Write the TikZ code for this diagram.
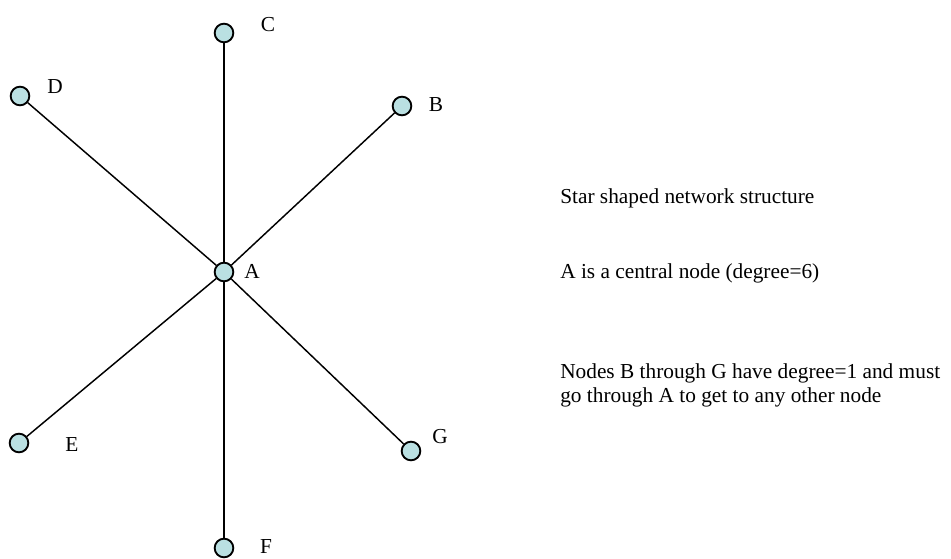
\documentclass[tikz,border=0pt]{standalone}
\usepackage{fontspec}
\setmainfont{Liberation Serif}
\definecolor{node fill}{RGB}{186,224,226}
\tikzstyle{vertex}=[circle, draw=black, fill=node fill, line width=1.4pt, minimum size=14pt, inner sep=0pt]
\tikzstyle{tag}=[inner sep=0pt]
\tikzstyle{link}=[line width=1.1pt]
\tikzstyle{note}=[anchor=base west, inner sep=0pt]

\begin{document}
\begin{tikzpicture}[x=0.75pt, y=-0.75pt, font=\fontsize{16}{19}\selectfont]
	\useasboundingbox (0,0) rectangle (951,558);

	\coordinate (pA) at (224,272);
	\coordinate (pB) at (402,106);
	\coordinate (pC) at (224,33);
	\coordinate (pD) at (20,96);
	\coordinate (pE) at (19,443);
	\coordinate (pF) at (224,548);
	\coordinate (pG) at (411,451);

	\node[vertex] (A) at (pA) {};
	\node[vertex] (B) at (pB) {};
	\node[vertex] (C) at (pC) {};
	\node[vertex] (D) at (pD) {};
	\node[vertex] (E) at (pE) {};
	\node[vertex] (F) at (pF) {};
	\node[vertex] (G) at (pG) {};

	\draw[link] (A) -- (B);
	\draw[link] (A) -- (C);
	\draw[link] (A) -- (D);
	\draw[link] (A) -- (E);
	\draw[link] (A) -- (F);
	\draw[link] (A) -- (G);

	\node[tag] (lA) at (252,271) {A};
	\node[tag] (lB) at (436,105) {B};
	\node[tag] (lC) at (268,25) {C};
	\node[tag] (lD) at (55,87) {D};
	\node[tag] (lE) at (72,445) {E};
	\node[tag] (lF) at (266,547) {F};
	\node[tag] (lG) at (440,437) {G};

	\node[note] (title) at (560,203) {Star shaped network structure};
	\node[note] (central) at (560,278) {A is a central node (degree=6)};
	\node[note] (leaves) at (560,378) {Nodes B through G have degree=1 and must};
	\node[note] (leaves2) at (560,402) {go through A to get to any other node};
\end{tikzpicture}
\end{document}
